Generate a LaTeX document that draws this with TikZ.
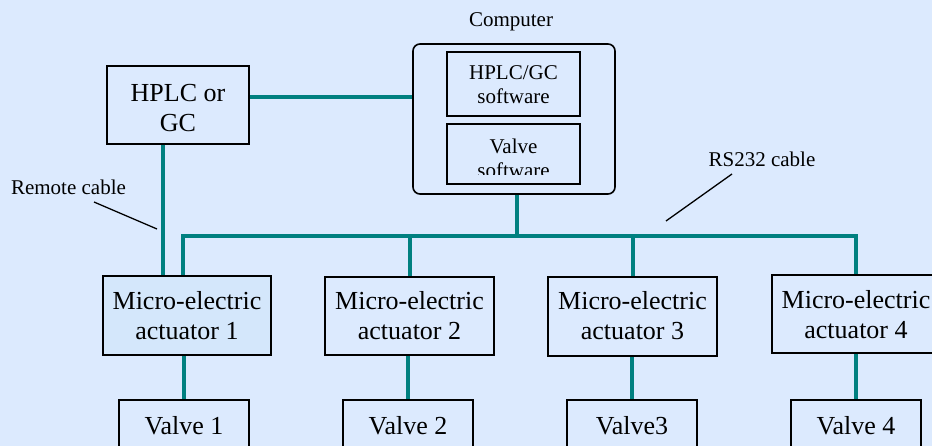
\documentclass[tikz,border=0pt]{standalone}
\usepackage{fontspec}
\setmainfont{Liberation Serif}
\usetikzlibrary{backgrounds}
\definecolor{bgc}{RGB}{220,234,254}
\definecolor{afill}{RGB}{212,231,251}
\definecolor{cablec}{RGB}{0,128,128}
\tikzset{
  box/.style={draw=black, line width=1.6pt, inner sep=0pt, align=center},
  big/.style={font=\fontsize{26}{30}\selectfont},
  small/.style={font=\fontsize{21}{24}\selectfont},
  cable/.style={draw=cablec, line width=4pt},
  lead/.style={draw=black, line width=1.3pt},
}
\begin{document}
\begin{tikzpicture}[x=1pt,y=-1pt]
\useasboundingbox (0,0) rectangle (932,446);
% boxes
\node[box,big,minimum width=142pt,text height=66pt,text depth=12pt] (hplc) at (178,105) {HPLC or\\GC};
\node[draw=black,line width=1.6pt,rounded corners=7pt,minimum width=202pt,minimum height=150pt,inner sep=0pt] (comp) at (514,119) {};
\node[small,anchor=base] (complabel) at (511,27) {Computer};
\node[box,small,minimum width=133pt,text height=52pt,text depth=12pt] (sw1) at (513.5,84) {HPLC/GC\\software};
\node[box,minimum width=133pt,minimum height=60pt] (sw2) at (513.5,154) {};
\begin{scope}
\clip (447,124) rectangle (580,175);
\node[small,align=center,inner sep=0pt,text height=53.5pt,text depth=6.5pt] (sw2t) at (513.5,154) {Valve\\software};
\end{scope}
\node[box,big,fill=afill,minimum width=168pt,text height=64pt,text depth=15pt] (a1) at (187,315.5) {Micro-electric\\actuator 1};
\node[box,big,minimum width=169pt,text height=63pt,text depth=15pt] (a2) at (409.5,316) {Micro-electric\\actuator 2};
\node[box,big,minimum width=169pt,text height=63pt,text depth=16pt] (a3) at (632.5,316.5) {Micro-electric\\actuator 3};
\node[box,big,minimum width=168pt,text height=63pt,text depth=15pt] (a4) at (856,314) {Micro-electric\\actuator 4};
\node[box,big,minimum width=130pt,text height=34pt,text depth=36pt] (v1) at (184,435) {Valve 1};
\node[box,big,minimum width=130pt,text height=34pt,text depth=36pt] (v2) at (408,435) {Valve 2};
\node[box,big,minimum width=130pt,text height=34pt,text depth=36pt] (v3) at (632,435) {Valve3};
\node[box,big,minimum width=130pt,text height=34pt,text depth=36pt] (v4) at (856,435) {Valve 4};
% labels
\node[small,anchor=base] (rclabel) at (68.5,195) {Remote cable};
\node[small,anchor=base] (rslabel) at (762,167) {RS232 cable};
\coordinate (rc1) at (94,202);
\coordinate (rc2) at (157,229);
\coordinate (rs1) at (732,174);
\coordinate (rs2) at (666,221);
\draw[lead] (rc1) -- (rc2);
\draw[lead] (rs1) -- (rs2);
% cables
\coordinate (y97) at (0,97);
\coordinate (rx) at (163,0);
\coordinate (busL) at (183,236);
\coordinate (busR) at (856,236);
\coordinate (busC) at (517,236);
\begin{pgfonlayer}{background}
\fill[bgc] (0,0) rectangle (932,446);
\draw[cable] (hplc.east |- y97) -- (comp.west |- y97);
\draw[cable] (hplc.south -| rx) -- (a1.north -| rx);
\draw[cable] (a1.north -| busL) -- (busL) -- (busR) -- (a4.north);
\draw[cable] (comp.south -| busC) -- (busC);
\draw[cable] (a2.north) -- (a2.north |- busL);
\draw[cable] (a3.north) -- (a3.north |- busL);
\draw[cable] (v1.north) -- (v1.north |- a1.south);
\draw[cable] (v2.north) -- (v2.north |- a2.south);
\draw[cable] (v3.north) -- (v3.north |- a3.south);
\draw[cable] (v4.north) -- (v4.north |- a4.south);
\end{pgfonlayer}
\end{tikzpicture}
\end{document}
